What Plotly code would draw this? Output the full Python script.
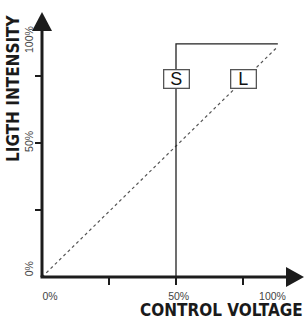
import plotly.graph_objects as go

# ---- data (axis units: unlabeled tick marks every 25 units) ----
s_voltage = [0, 50, 50, 88]
s_light = [0, 0, 87, 87]
l_voltage = [0, 88]
l_light = [0, 86]
tick_marks = [25, 50, 75]
x_label_pos = [3, 51, 86]
x_labels = ["0%", "50%", "100%"]
y_label_pos = [2.5, 50, 88]
y_labels = ["0%", "50%", "100%"]
box_labels = ["S", "L"]
box_x = [50, 75]
box_y = [74, 74]

# ---- geometry ----
W, H = 305, 320
L, R, T, B = 42, 1, 12, 43
PX = 2.68  # pixels per axis unit
pw = W - L - R
ph = H - T - B
xmax = pw / PX
ymax = ph / PX

def px_x(px):
    return (px - L) / pw

def px_y(py):
    return (H - B - py) / ph

AX = "#1c1c1c"
NARROW = "DejaVu Sans Condensed, Liberation Sans Narrow, sans-serif"

fig = go.Figure()
fig.add_trace(go.Scatter(x=l_voltage, y=l_light, mode="lines",
                         line=dict(color="#555555", width=1.2, dash="dot"),
                         hoverinfo="skip", showlegend=False))
fig.add_trace(go.Scatter(x=s_voltage, y=s_light, mode="lines",
                         line=dict(color="#222222", width=1.3),
                         hoverinfo="skip", showlegend=False))

shapes = [
    dict(type="line", xref="paper", yref="paper", x0=px_x(40.5), y0=0, x1=px_x(292), y1=0,
         line=dict(color=AX, width=3)),
    dict(type="line", xref="paper", yref="paper", x0=0, y0=0, x1=0, y1=px_y(25),
         line=dict(color=AX, width=3)),
    dict(type="path", xref="paper", yref="paper",
         path=f"M {px_x(286)},{px_y(267)} L {px_x(304)},{px_y(277)} L {px_x(286)},{px_y(287)} Z",
         fillcolor=AX, line=dict(width=0)),
    dict(type="path", xref="paper", yref="paper",
         path=f"M {px_x(32)},{px_y(31)} L {px_x(42)},{px_y(12)} L {px_x(52)},{px_y(31)} Z",
         fillcolor=AX, line=dict(width=0)),
]

annotations = []
for lab, bx, by in zip(box_labels, box_x, box_y):
    annotations.append(dict(x=bx, y=by, xref="x", yref="y", text=lab, showarrow=False,
                            font=dict(family="Liberation Sans, Arial, sans-serif", size=18, color="#111"),
                            bgcolor="white", bordercolor="#555555", borderwidth=1.3,
                            borderpad=0, width=24, height=17))
annotations.append(dict(x=px_x(221), y=px_y(310), xref="paper", yref="paper",
                        text="<b>CONTROL VOLTAGE</b>", showarrow=False,
                        font=dict(family=NARROW, size=17, color="#1a1a1a"),
                        xanchor="center", yanchor="middle"))
annotations.append(dict(x=px_x(13), y=px_y(88), xref="paper", yref="paper",
                        text="<b>LIGTH INTENSITY</b>", showarrow=False, textangle=-90,
                        font=dict(family=NARROW, size=17, color="#1a1a1a"),
                        xanchor="center", yanchor="middle"))

fig.update_layout(
    width=W, height=H,
    margin=dict(l=L, r=R, t=T, b=B, pad=0),
    paper_bgcolor="white", plot_bgcolor="white",
    shapes=shapes, annotations=annotations,
    showlegend=False,
    xaxis=dict(range=[0, xmax], showgrid=False, zeroline=False, showline=False,
               tickmode="array", tickvals=x_label_pos, ticktext=x_labels, ticks="",
               tickfont=dict(family="Liberation Sans, Arial, sans-serif", size=10.5, color="#444"),
               ticklabelstandoff=11,
               minor=dict(tickvals=tick_marks, ticks="outside", ticklen=7, tickwidth=2,
                          tickcolor=AX, showgrid=False),
               fixedrange=True),
    yaxis=dict(range=[0, ymax], showgrid=False, zeroline=False, showline=False,
               tickmode="array", tickvals=y_label_pos, ticktext=y_labels, ticks="",
               tickangle=-90,
               tickfont=dict(family="Liberation Sans, Arial, sans-serif", size=10.5, color="#444"),
               ticklabelstandoff=6,
               minor=dict(tickvals=tick_marks, ticks="outside", ticklen=6, tickwidth=2,
                          tickcolor=AX, showgrid=False),
               fixedrange=True),
)

fig.write_html("out.html", config={"displayModeBar": False},
               post_script="document.body.style.margin='0px';document.body.style.overflow='hidden';")
